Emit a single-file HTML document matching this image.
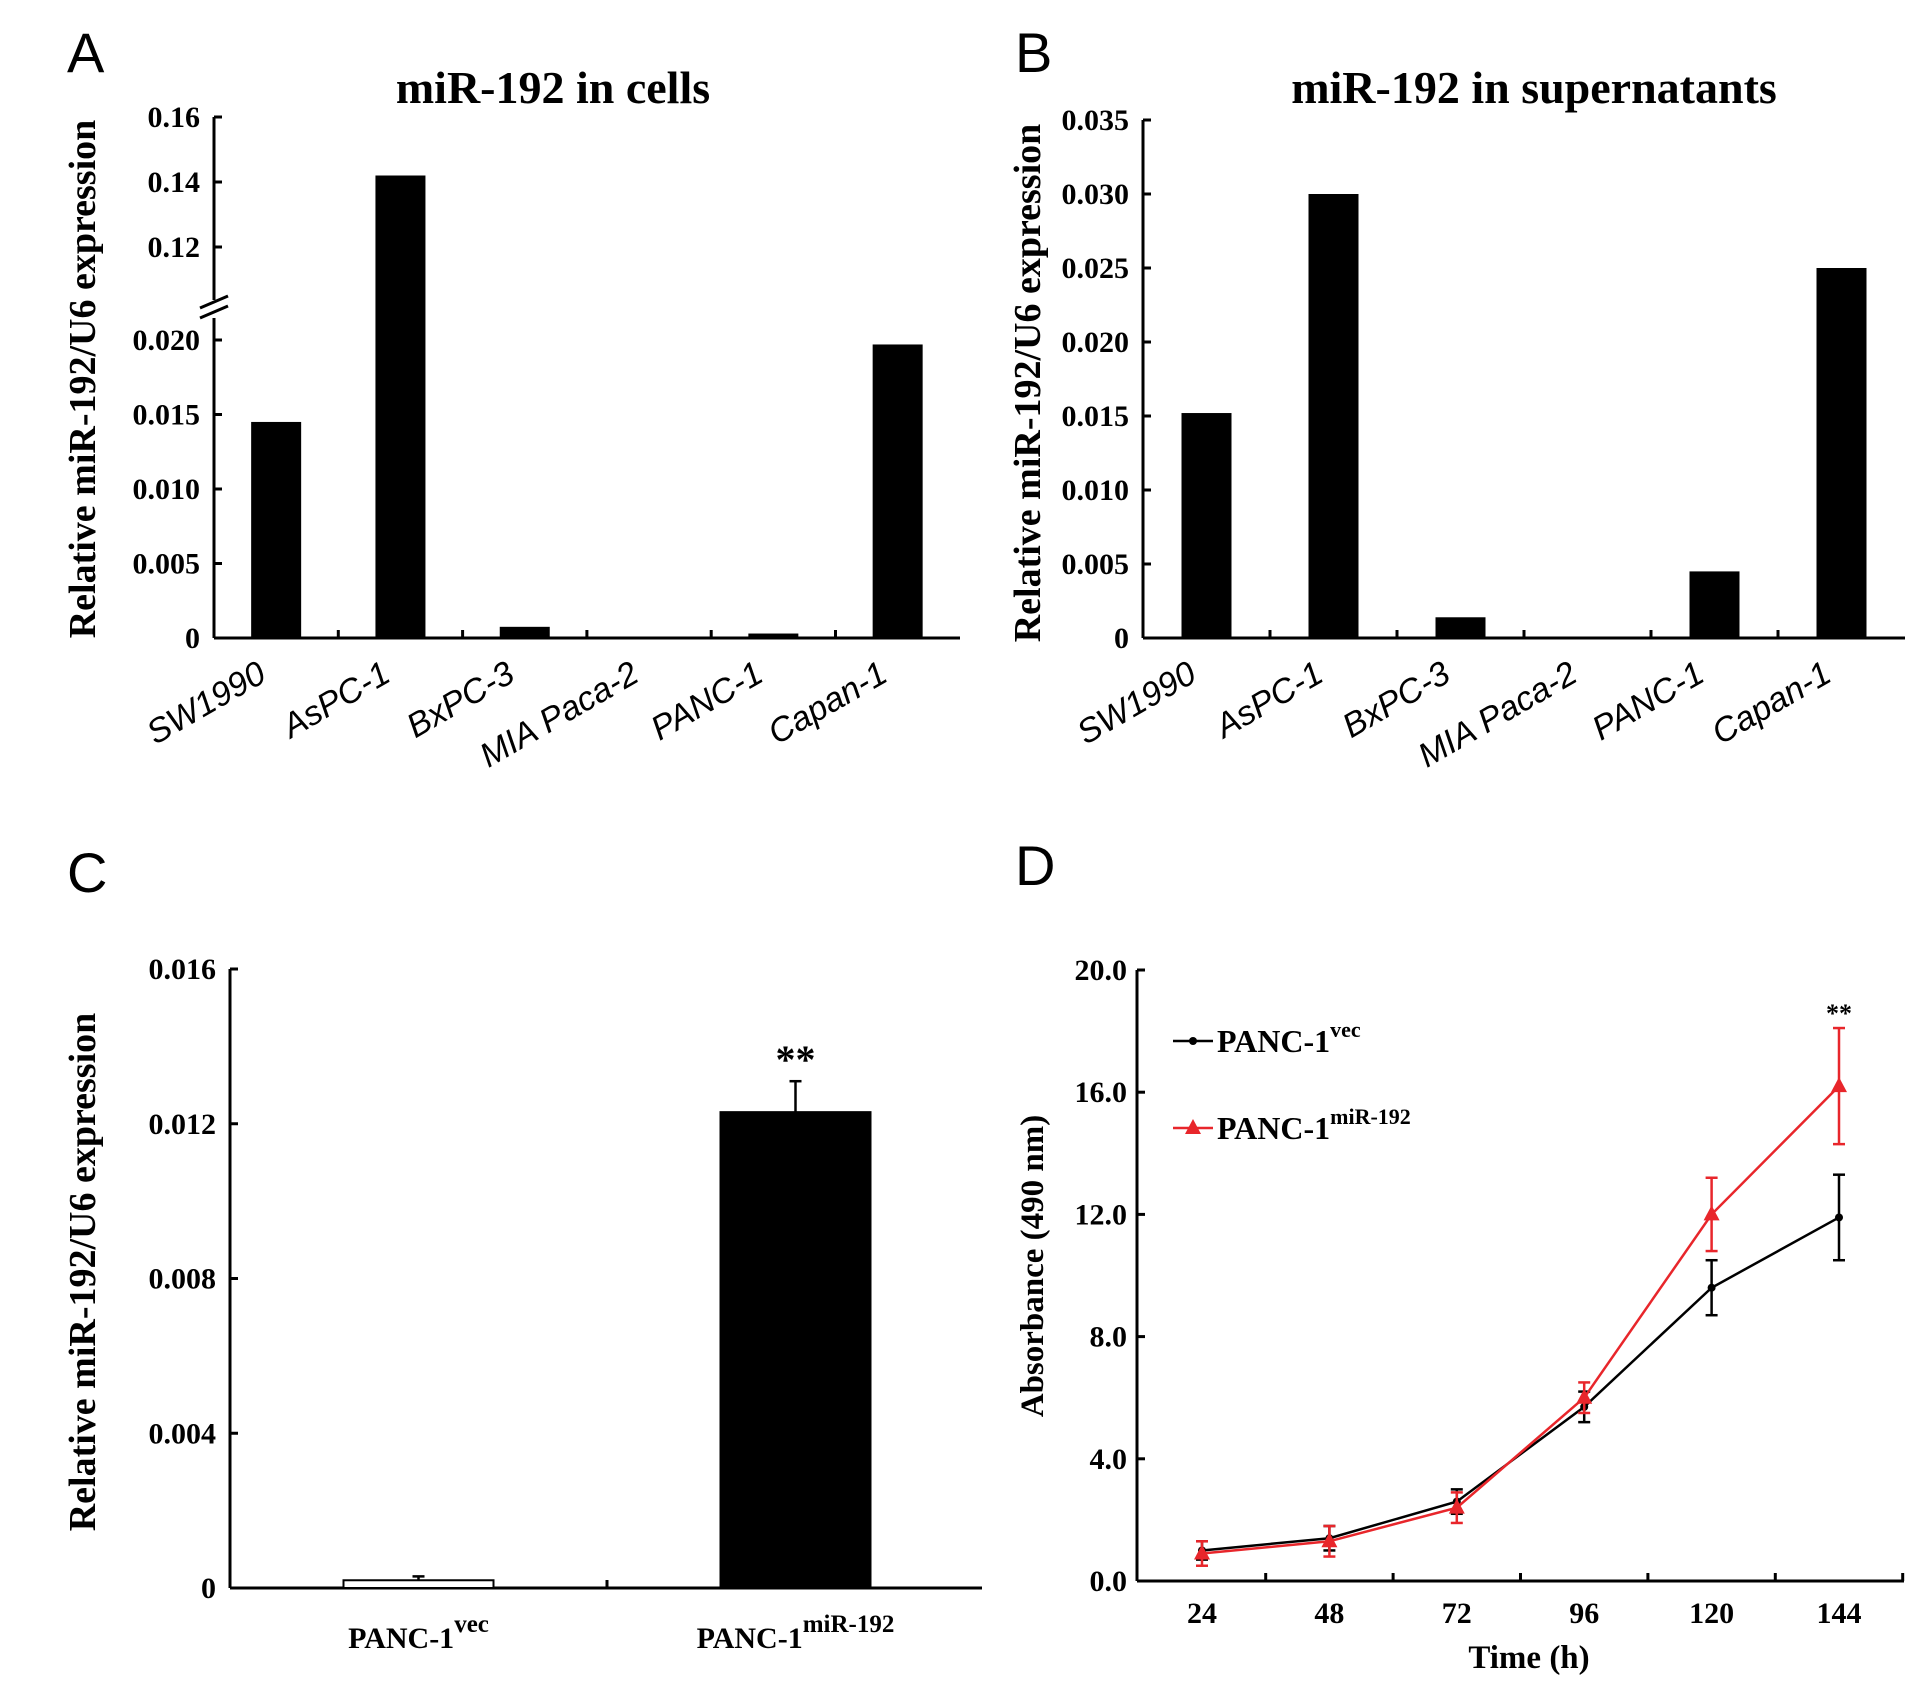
<!DOCTYPE html>
<html><head><meta charset="utf-8"><style>
html,body{margin:0;padding:0;background:#fff;}
svg{display:block;font-family:"Liberation Serif",serif;}
.t{font-weight:bold;font-size:30px;}
.cat{font-family:"Liberation Sans",sans-serif;font-style:italic;font-size:34px;}
.lt{font-family:"Liberation Sans",sans-serif;font-size:56px;}
</style></head><body>
<svg id="fig" width="1913" height="1684" viewBox="0 0 1913 1684"></svg>
<script>
const catsAB=["SW1990","AsPC-1","BxPC-3","MIA Paca-2","PANC-1","Capan-1"];
const valsA=[0.0145,0.142,0.00075,0.0001,0.0003,0.0197];
const valsB=[0.0152,0.030,0.0014,0.0001,0.0045,0.025];
const ticksAlow=[0,0.005,0.010,0.015,0.020];
const ticksAlowLbl=["0","0.005","0.010","0.015","0.020"];
const ticksAhigh=[0.12,0.14,0.16];
const ticksAhighLbl=["0.12","0.14","0.16"];
const ticksB=[0,0.005,0.010,0.015,0.020,0.025,0.030,0.035];
const ticksBLbl=["0","0.005","0.010","0.015","0.020","0.025","0.030","0.035"];
const catsC=["vec","miR-192"];
const valsC=[0.0002,0.0123];
const errC=[0.0001,0.0008];
const ticksC=[0,0.004,0.008,0.012,0.016];
const ticksCLbl=["0","0.004","0.008","0.012","0.016"];
const timesD=[24,48,72,96,120,144];
const vecD=[1.0,1.4,2.6,5.7,9.6,11.9];
const vecErr=[0.3,0.4,0.4,0.5,0.9,1.4];
const mirD=[0.9,1.3,2.4,6.0,12.0,16.2];
const mirErr=[0.4,0.5,0.5,0.5,1.2,1.9];
const ticksD=[0,4,8,12,16,20];
const ticksDLbl=["0.0","4.0","8.0","12.0","16.0","20.0"];

const svg=document.getElementById('fig');
const NS="http://www.w3.org/2000/svg";
function el(tag,attrs,parent,text){const e=document.createElementNS(NS,tag);for(const k in attrs)e.setAttribute(k,attrs[k]);if(text!==undefined)e.textContent=text;(parent||svg).appendChild(e);return e;}
function grp(name){const g=el('g',{});return g;}
function line(g,x1,y1,x2,y2,c,w){return el('line',{x1,y1,x2,y2,stroke:c||'#000','stroke-width':w||3},g);}

[["A",67,72],["B",1015,72],["C",67,892],["D",1015,885]].forEach(p=>{
 const t=el('text',{x:p[1],y:p[2],class:'lt'},svg,p[0]);
 
 
});

// ---------- Panel A ----------
(function(){
 const g=grp('panel-a-chart');
 const x0=214,x1=960,bw=124.3;
 const yLow=v=>638-v*(638-340)/0.020;
 const yHigh=v=>247-(v-0.12)*(247-117)/0.04;
 const yA=v=>v<=0.03?yLow(v):yHigh(v);
 const t=el('text',{x:553,y:103,'text-anchor':'middle','font-size':46,'font-weight':'bold'},g,'miR-192 in cells');
 
 line(g,x0,117,x0,300);line(g,x0,318,x0,638);
 line(g,x0-14,308,x0+14,296,'#000',3);line(g,x0-14,318,x0+14,306,'#000',3);
 line(g,x0,638,x1,638);
 ticksAhigh.forEach((v,i)=>{line(g,x0,yHigh(v),x0+8,yHigh(v));const l=el('text',{x:x0-14,y:yHigh(v)+10,'text-anchor':'end',class:'t'},g,ticksAhighLbl[i]);});
 ticksAlow.forEach((v,i)=>{line(g,x0,yLow(v),x0+8,yLow(v));const l=el('text',{x:x0-14,y:yLow(v)+10,'text-anchor':'end',class:'t'},g,ticksAlowLbl[i]);});
 for(let i=1;i<catsAB.length;i++)line(g,x0+i*bw,638,x0+i*bw,630);
 catsAB.forEach((c,i)=>{
  const cx=x0+(i+0.5)*bw;
  const r=el('rect',{x:cx-25,y:yA(valsA[i]),width:50,height:638-yA(valsA[i]),fill:'#000'},g);
  
  
  const l=el('text',{x:cx-8,y:680,'text-anchor':'end',class:'cat',transform:`rotate(-30 ${cx-8} 680)`},g,c);
  
 });
 const yt=el('text',{x:0,y:0,'text-anchor':'middle','font-size':38,'font-weight':'bold',transform:'translate(95 379) rotate(-90)'},g,'Relative miR-192/U6 expression');
 
})();

// ---------- Panel B ----------
(function(){
 const g=grp('panel-b-chart');
 const x0=1143,x1=1905,bw=127;
 const y=v=>638-v*(638-120)/0.035;
 const t=el('text',{x:1534,y:103,'text-anchor':'middle','font-size':46,'font-weight':'bold'},g,'miR-192 in supernatants');
 
 line(g,x0,120,x0,638);line(g,x0,638,x1,638);
 ticksB.forEach((v,i)=>{line(g,x0,y(v),x0+8,y(v));const l=el('text',{x:x0-14,y:y(v)+10,'text-anchor':'end',class:'t'},g,ticksBLbl[i]);});
 for(let i=1;i<catsAB.length;i++)line(g,x0+i*bw,638,x0+i*bw,630);
 catsAB.forEach((c,i)=>{
  const cx=x0+(i+0.5)*bw;
  const r=el('rect',{x:cx-25,y:y(valsB[i]),width:50,height:638-y(valsB[i]),fill:'#000'},g);
  
  
  const l=el('text',{x:cx-8,y:680,'text-anchor':'end',class:'cat',transform:`rotate(-30 ${cx-8} 680)`},g,c);
  
 });
 const yt=el('text',{x:0,y:0,'text-anchor':'middle','font-size':38,'font-weight':'bold',transform:'translate(1040 383) rotate(-90)'},g,'Relative miR-192/U6 expression');
 
})();

// ---------- Panel C ----------
(function(){
 const g=grp('panel-c-chart');
 const x0=230,x1=982,bw=377;
 const y=v=>1588-v*(1588-969)/0.016;
 line(g,x0,969,x0,1588);line(g,x0,1588,x1,1588);
 line(g,x0+bw,1588,x0+bw,1580);
 ticksC.forEach((v,i)=>{line(g,x0,y(v),x0+8,y(v));const l=el('text',{x:x0-14,y:y(v)+10,'text-anchor':'end',class:'t','font-size':32},g,ticksCLbl[i]);});
 catsC.forEach((c,i)=>{
  const cx=x0+(i+0.5)*bw;
  const r=el('rect',{x:cx-75,y:y(valsC[i]),width:150,height:1588-y(valsC[i]),fill:i?'#000':'#fff',stroke:'#000','stroke-width':2},g);
  
  const ye=y(valsC[i]+errC[i]);
  line(g,cx,y(valsC[i]),cx,ye,'#000',2.5);line(g,cx-6,ye,cx+6,ye,'#000',2.5);
  const l=el('text',{x:cx,y:1648,'text-anchor':'middle',class:'t','font-size':33},g);
  
  el('tspan',{},l,'PANC-1');el('tspan',{dy:-16,'font-size':25},l,c);
 });
 const st=el('text',{x:x0+1.5*bw,y:y(valsC[1]+errC[1])-8,'text-anchor':'middle','font-size':40,'font-weight':'bold'},g,'**');
 
 const yt=el('text',{x:0,y:0,'text-anchor':'middle','font-size':38,'font-weight':'bold',transform:'translate(95 1272) rotate(-90)'},g,'Relative miR-192/U6 expression');
 
})();

// ---------- Panel D ----------
(function(){
 const g=grp('panel-d-chart');
 const x0=1137,x1=1904,step=127.4,xFirst=1202;
 const x=t=>xFirst+(t-24)/24*step;
 const y=v=>1581-v*(1581-970)/20;
 line(g,x0,970,x0,1581);line(g,x0,1581,x1,1581);
 ticksD.forEach((v,i)=>{line(g,x0,y(v),x0+8,y(v));const l=el('text',{x:x0-10,y:y(v)+10,'text-anchor':'end',class:'t'},g,ticksDLbl[i]);});
 timesD.forEach((t,i)=>{
  line(g,x(t)+step/2,1581,x(t)+step/2,1573);
  const l=el('text',{x:x(t),y:1623,'text-anchor':'middle',class:'t'},g,String(t));
  
 });
 function series(vals,errs,color,name,tri){
  const sg=el('g',{},g);
  el('polyline',{points:timesD.map((t,i)=>x(t)+','+y(vals[i])).join(' '),fill:'none',stroke:color,'stroke-width':2.5},sg);
  timesD.forEach((t,i)=>{
   const cx=x(t),lo=y(vals[i]-errs[i]),hi=y(vals[i]+errs[i]);
   line(sg,cx,lo,cx,hi,color,2.5);line(sg,cx-6,lo,cx+6,lo,color,2.5);line(sg,cx-6,hi,cx+6,hi,color,2.5);
   const cy=y(vals[i]);
   if(tri)el('polygon',{points:`${cx},${cy-9} ${cx-8},${cy+6} ${cx+8},${cy+6}`,fill:color},sg);
   else el('circle',{cx,cy,r:4,fill:color},sg);
  });
 }
 series(vecD,vecErr,'#000','series-panc1-vec',false);
 series(mirD,mirErr,'#e8262b','series-panc1-mir192',true);
 const st=el('text',{x:x(144),y:y(mirD[5]+mirErr[5])-6,'text-anchor':'middle','font-size':26,'font-weight':'bold'},g,'**');
 
 const lg=el('g',{},g);
 const e1=el('g',{},lg);
 line(e1,1173,1041,1213,1041,'#000',2.5);el('circle',{cx:1193,cy:1041,r:4,fill:'#000'},e1);
 const t1=el('text',{x:1217,y:1052,'font-size':32,'font-weight':'bold'},e1);el('tspan',{},t1,'PANC-1');el('tspan',{dy:-15,'font-size':22},t1,'vec');
 const e2=el('g',{},lg);
 line(e2,1173,1128,1213,1128,'#e8262b',2.5);el('polygon',{points:'1193,1119 1185,1134 1201,1134',fill:'#e8262b'},e2);
 const t2=el('text',{x:1217,y:1139,'font-size':32,'font-weight':'bold'},e2);el('tspan',{},t2,'PANC-1');el('tspan',{dy:-15,'font-size':22},t2,'miR-192');
 const xt=el('text',{x:1529,y:1668,'text-anchor':'middle','font-size':33,'font-weight':'bold'},g,'Time (h)');
 
 const yt=el('text',{x:0,y:0,'text-anchor':'middle','font-size':33,'font-weight':'bold',transform:'translate(1043 1266) rotate(-90)'},g,'Absorbance  (490 nm)');
 
})();
</script>
</body></html>
